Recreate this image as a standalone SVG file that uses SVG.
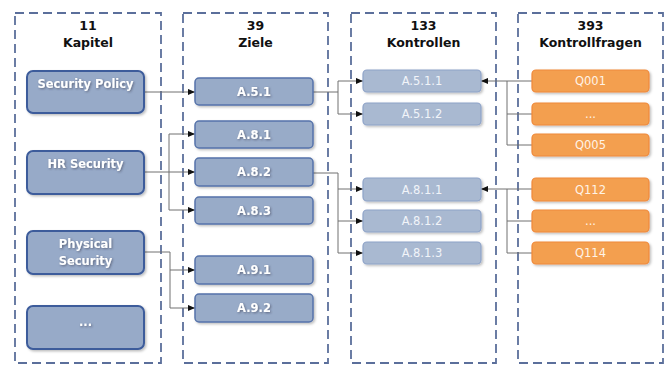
<svg xmlns="http://www.w3.org/2000/svg" width="669" height="365" viewBox="0 0 669 365">
<style>
.col{fill:none;stroke:#5b6f9b;stroke-width:1.8;stroke-dasharray:9,5}
.hd{font-family:"DejaVu Sans",Verdana,sans-serif;font-weight:bold;font-size:12.5px;fill:#111;text-anchor:middle}
.n1 rect{fill:#97aac8;stroke:#3c5b9b;stroke-width:2}
.n2 rect{fill:#98abc8;stroke:#5673aa;stroke-width:1.5}
.n3 rect{fill:#a9b9d1;stroke:#8ea3c8;stroke-width:1.2}
.n4 rect{fill:#f39f4f;stroke:#f0893a;stroke-width:1.2}
.bt{font-family:"DejaVu Sans",Verdana,sans-serif;font-weight:bold;font-size:11.5px;fill:#fff;text-anchor:middle;dominant-baseline:central}
.lt{font-family:"DejaVu Sans",Verdana,sans-serif;font-size:11.5px;fill:#f1f4f9;text-anchor:middle;dominant-baseline:central}
.ot{font-family:"DejaVu Sans",Verdana,sans-serif;font-size:11.5px;fill:#fff3e6;text-anchor:middle;dominant-baseline:central}
.c{fill:none;stroke:#707070;stroke-width:1}
</style>
<defs>
<filter id="sh" x="-10%" y="-20%" width="130%" height="150%">
<feDropShadow dx="1.5" dy="1.5" stdDeviation="1.2" flood-color="#000" flood-opacity="0.25"/>
</filter>
<filter id="ts" x="-10%" y="-30%" width="130%" height="160%">
<feDropShadow dx="1" dy="1" stdDeviation="0.8" flood-color="#334" flood-opacity="0.55"/>
</filter>
<marker id="ar" viewBox="0 0 8 8" refX="8" refY="4" markerWidth="7" markerHeight="7" markerUnits="userSpaceOnUse" orient="auto">
<path d="M0,0.5 L8,4 L0,7.5 z" fill="#111"/>
</marker>
</defs>
<rect width="669" height="365" fill="#fff"/>

<g id="columns">
<rect class="col" x="15" y="13" width="146" height="350"/>
<rect class="col" x="183" y="13" width="145" height="350"/>
<rect class="col" x="351" y="13" width="145" height="350"/>
<rect class="col" x="518" y="13" width="145" height="350"/>
<text class="hd" x="88" y="30">11</text>
<text class="hd" x="88" y="47">Kapitel</text>
<text class="hd" x="255.5" y="30">39</text>
<text class="hd" x="255.5" y="47">Ziele</text>
<text class="hd" x="423.5" y="30">133</text>
<text class="hd" x="423.5" y="47">Kontrollen</text>
<text class="hd" x="590.5" y="30">393</text>
<text class="hd" x="590.5" y="47">Kontrollfragen</text>
</g>

<g id="connectors">
<path class="c" d="M144,92 H195" marker-end="url(#ar)"/>
<path class="c" d="M144,172 H195" marker-end="url(#ar)"/>
<path class="c" d="M169,134 V210"/>
<path class="c" d="M169,134 H195" marker-end="url(#ar)"/>
<path class="c" d="M169,210 H195" marker-end="url(#ar)"/>
<path class="c" d="M144,252 H170 V308"/>
<path class="c" d="M170,270 H195" marker-end="url(#ar)"/>
<path class="c" d="M170,308 H195" marker-end="url(#ar)"/>
<path class="c" d="M313,92 H338"/>
<path class="c" d="M338,81 V114"/>
<path class="c" d="M338,81 H363" marker-end="url(#ar)"/>
<path class="c" d="M338,114 H363" marker-end="url(#ar)"/>
<path class="c" d="M313,173 H338 V253"/>
<path class="c" d="M338,189 H363" marker-end="url(#ar)"/>
<path class="c" d="M338,221 H363" marker-end="url(#ar)"/>
<path class="c" d="M338,253 H363" marker-end="url(#ar)"/>
<path class="c" d="M532,81 H481" marker-end="url(#ar)"/>
<path class="c" d="M507,81 V145 H532"/>
<path class="c" d="M507,114 H532"/>
<path class="c" d="M532,189 H481" marker-end="url(#ar)"/>
<path class="c" d="M507,189 V253 H532"/>
<path class="c" d="M507,221 H532"/>
</g>

<g id="security-policy" class="n1"><rect x="27" y="71" width="117" height="42" rx="6" filter="url(#sh)"/><text class="bt" x="85.5" y="84" filter="url(#ts)">Security Policy</text></g>
<g id="hr-security" class="n1"><rect x="27" y="151" width="117" height="43" rx="6" filter="url(#sh)"/><text class="bt" x="85.5" y="164" filter="url(#ts)">HR Security</text></g>
<g id="physical-security" class="n1"><rect x="27" y="231" width="117" height="43" rx="6" filter="url(#sh)"/><text class="bt" x="85.5" y="244" filter="url(#ts)">Physical</text><text class="bt" x="85.5" y="261" filter="url(#ts)">Security</text></g>
<g id="kapitel-more" class="n1"><rect x="27" y="306" width="117" height="43" rx="6" filter="url(#sh)"/><text class="bt" x="85.5" y="322" filter="url(#ts)">...</text></g>

<g id="a51" class="n2"><rect x="195" y="78" width="118" height="27" rx="4" filter="url(#sh)"/><text class="bt" x="254" y="91.5" filter="url(#ts)">A.5.1</text></g>
<g id="a81" class="n2"><rect x="195" y="121" width="118" height="27" rx="4" filter="url(#sh)"/><text class="bt" x="254" y="134.5" filter="url(#ts)">A.8.1</text></g>
<g id="a82" class="n2"><rect x="195" y="158" width="118" height="28" rx="4" filter="url(#sh)"/><text class="bt" x="254" y="172" filter="url(#ts)">A.8.2</text></g>
<g id="a83" class="n2"><rect x="195" y="197" width="118" height="27" rx="4" filter="url(#sh)"/><text class="bt" x="254" y="210.5" filter="url(#ts)">A.8.3</text></g>
<g id="a91" class="n2"><rect x="195" y="256" width="118" height="28" rx="4" filter="url(#sh)"/><text class="bt" x="254" y="270" filter="url(#ts)">A.9.1</text></g>
<g id="a92" class="n2"><rect x="195" y="294" width="118" height="28" rx="4" filter="url(#sh)"/><text class="bt" x="254" y="308" filter="url(#ts)">A.9.2</text></g>

<g id="a511" class="n3"><rect x="363" y="70" width="118" height="22" rx="4" filter="url(#sh)"/><text class="lt" x="422" y="81">A.5.1.1</text></g>
<g id="a512" class="n3"><rect x="363" y="103" width="118" height="22" rx="4" filter="url(#sh)"/><text class="lt" x="422" y="114">A.5.1.2</text></g>
<g id="a811" class="n3"><rect x="363" y="178" width="118" height="23" rx="4" filter="url(#sh)"/><text class="lt" x="422" y="189.5">A.8.1.1</text></g>
<g id="a812" class="n3"><rect x="363" y="210" width="118" height="22" rx="4" filter="url(#sh)"/><text class="lt" x="422" y="221">A.8.1.2</text></g>
<g id="a813" class="n3"><rect x="363" y="242" width="118" height="22" rx="4" filter="url(#sh)"/><text class="lt" x="422" y="253">A.8.1.3</text></g>

<g id="q001" class="n4"><rect x="532" y="70" width="117" height="22" rx="4" filter="url(#sh)"/><text class="ot" x="590.5" y="81">Q001</text></g>
<g id="q-more-1" class="n4"><rect x="532" y="103" width="117" height="22" rx="4" filter="url(#sh)"/><text class="ot" x="590.5" y="114">...</text></g>
<g id="q005" class="n4"><rect x="532" y="134" width="117" height="22" rx="4" filter="url(#sh)"/><text class="ot" x="590.5" y="145">Q005</text></g>
<g id="q112" class="n4"><rect x="532" y="178" width="117" height="23" rx="4" filter="url(#sh)"/><text class="ot" x="590.5" y="189.5">Q112</text></g>
<g id="q-more-2" class="n4"><rect x="532" y="210" width="117" height="22" rx="4" filter="url(#sh)"/><text class="ot" x="590.5" y="221">...</text></g>
<g id="q114" class="n4"><rect x="532" y="242" width="117" height="22" rx="4" filter="url(#sh)"/><text class="ot" x="590.5" y="253">Q114</text></g>
</svg>
